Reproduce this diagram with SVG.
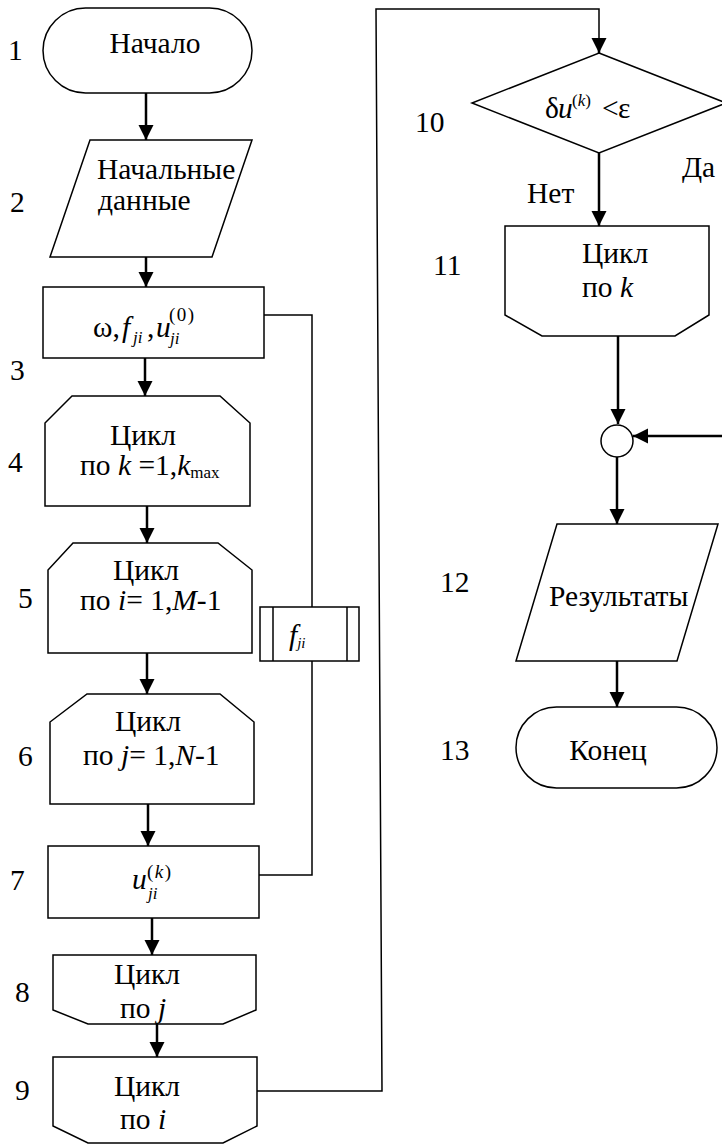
<svg xmlns="http://www.w3.org/2000/svg" width="722" height="1144" viewBox="0 0 722 1144">
<defs>
<style>
.s{fill:#fff;stroke:#000;stroke-width:1.5}
.t{font-family:"Liberation Serif","Times New Roman","DejaVu Serif",serif;font-size:29.5px;fill:#000}
.m{text-anchor:middle}
.i{font-style:italic}
.sm{font-size:17px}
.sp{font-size:19px;letter-spacing:1.5px}
.a{fill:none;stroke:#000;stroke-width:2.5;marker-end:url(#ah)}
.l{fill:none;stroke:#000;stroke-width:1.5}
</style>
<marker id="ah" markerUnits="userSpaceOnUse" markerWidth="16" markerHeight="16" refX="15" refY="7.5" orient="auto">
<path d="M0,0 L15,7.5 L0,15 z" fill="#000"/>
</marker>
</defs>
<rect width="722" height="1144" fill="#fff"/>
<g id="connectors">
<line class="a" x1="146" y1="93" x2="146" y2="140"/>
<line class="a" x1="146" y1="257" x2="146" y2="287"/>
<line class="a" x1="145" y1="358" x2="145" y2="396"/>
<line class="a" x1="147" y1="506" x2="147" y2="543"/>
<line class="a" x1="147" y1="653" x2="147" y2="694"/>
<line class="a" x1="148" y1="804" x2="148" y2="846"/>
<line class="a" x1="152" y1="918" x2="152" y2="955"/>
<line class="a" x1="157" y1="1024" x2="157" y2="1057"/>
<polyline class="l" points="264,315 312,315 312,607"/>
<polyline class="l" points="312,661 312,875 259,875"/>
<polyline class="l" points="257,1091 382,1091 376,9 599,9 599,40"/>
<line class="a" x1="599" y1="38" x2="599" y2="53"/>
<line class="a" x1="599" y1="153" x2="599" y2="226"/>
<line class="a" x1="618" y1="336" x2="618" y2="424"/>
<line class="a" x1="722" y1="436" x2="633" y2="436"/>
<line class="a" x1="617" y1="457" x2="617" y2="524"/>
<line class="a" x1="617" y1="661" x2="617" y2="707"/>
</g>
<g id="n1">
<rect class="s" x="43" y="8" width="209" height="85" rx="42.5"/>
<text class="t m" x="155" y="53">Начало</text>
<text class="t" x="8" y="60">1</text>
</g>
<g id="n2">
<polygon class="s" points="90,140 252,140 212,257 50,257"/>
<text class="t" x="97" y="179">Начальные</text>
<text class="t" x="98" y="210">данные</text>
<text class="t" x="10" y="212">2</text>
</g>
<g id="n3">
<rect class="s" x="43" y="287" width="221" height="71"/>
<text class="t" x="93" y="337">ω,</text>
<text class="t i" x="122" y="337">f</text>
<text class="t i sm" x="133" y="343">ji</text>
<text class="t" x="147" y="337">,</text>
<text class="t i" x="156" y="337">u</text>
<text class="t i sm" x="170" y="344">ji</text>
<text class="t sp" x="169" y="321">(0)</text>
<text class="t" x="10" y="380">3</text>
</g>
<g id="n4">
<polygon class="s" points="72,396 220,396 250,423 250,506 45,506 45,423"/>
<text class="t m" x="143" y="445">Цикл</text>
<text class="t" x="80" y="475">по <tspan class="i">k</tspan> =1,<tspan class="i">k</tspan><tspan class="sm" dy="3">max</tspan></text>
<text class="t" x="8" y="472">4</text>
</g>
<g id="n5">
<polygon class="s" points="73,543 218,543 252,570 252,653 48,653 48,570"/>
<text class="t m" x="146" y="580">Цикл</text>
<text class="t" x="80" y="610">по <tspan class="i">i</tspan>= 1,<tspan class="i">M</tspan>-1</text>
<text class="t" x="18" y="608">5</text>
</g>
<g id="fji">
<rect class="s" x="260" y="607" width="99" height="54"/>
<line class="l" x1="273" y1="607" x2="273" y2="661"/>
<line class="l" x1="347" y1="607" x2="347" y2="661"/>
<text class="t i" x="289" y="645" font-size="20">f<tspan font-size="15" dy="3">ji</tspan></text>
</g>
<g id="n6">
<polygon class="s" points="87,694 220,694 254,722 254,804 50,804 50,722"/>
<text class="t m" x="148" y="731">Цикл</text>
<text class="t" x="83" y="765">по <tspan class="i">j</tspan>= 1,<tspan class="i">N</tspan>-1</text>
<text class="t" x="18" y="766">6</text>
</g>
<g id="n7">
<rect class="s" x="48" y="846" width="211" height="72"/>
<text class="t i" x="132" y="889">u</text>
<text class="t i sm" x="148" y="899">ji</text>
<text class="t sp" x="147" y="878">(<tspan class="i">k</tspan>)</text>
<text class="t" x="10" y="890">7</text>
</g>
<g id="n8">
<polygon class="s" points="53,955 256,955 256,1010 223,1024 88,1024 53,1010"/>
<text class="t m" x="147" y="984">Цикл</text>
<text class="t" x="120" y="1018">по <tspan class="i">j</tspan></text>
<text class="t" x="15" y="1002">8</text>
</g>
<g id="n9">
<polygon class="s" points="53,1057 257,1057 257,1126 223,1143 88,1143 53,1126"/>
<text class="t m" x="147" y="1096">Цикл</text>
<text class="t" x="120" y="1129">по <tspan class="i">i</tspan></text>
<text class="t" x="15" y="1100">9</text>
</g>
<g id="n10">
<polygon class="s" points="599,53 726,103 599,153 472,103"/>
<text class="t" x="545" y="118" font-size="25">δ</text>
<text class="t i" x="558" y="118">u</text>
<text class="t sm" x="572" y="106">(<tspan class="i">k</tspan>)</text>
<text class="t" x="602" y="118">&lt;</text>
<text class="t" x="618" y="118">ε</text>
<text class="t" x="415" y="132">10</text>
<text class="t" x="527" y="203">Нет</text>
<text class="t" x="682" y="177">Да</text>
</g>
<g id="n11">
<polygon class="s" points="505,226 709,226 709,315 675,336 542,336 505,315"/>
<text class="t" x="582" y="263">Цикл</text>
<text class="t" x="582" y="297">по <tspan class="i">k</tspan></text>
<text class="t" x="433" y="275">11</text>
</g>
<g id="join">
<circle class="s" cx="617" cy="441" r="16"/>
</g>
<g id="n12">
<polygon class="s" points="557,524 718,524 677,661 516,661"/>
<text class="t" x="549" y="606">Результаты</text>
<text class="t" x="440" y="592">12</text>
</g>
<g id="n13">
<rect class="s" x="516" y="707" width="201" height="81" rx="40.5"/>
<text class="t m" x="608" y="760">Конец</text>
<text class="t" x="440" y="760">13</text>
</g>
</svg>
